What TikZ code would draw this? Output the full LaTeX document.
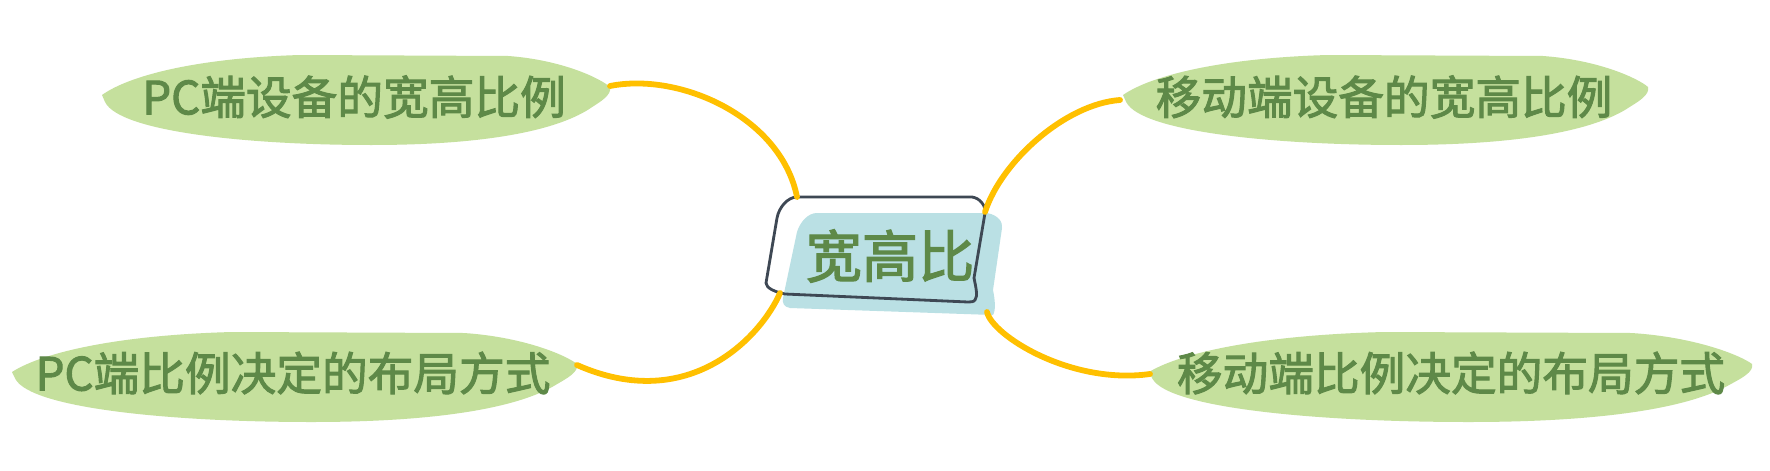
\documentclass[tikz,border=0pt]{standalone}
\usepackage{fontspec}
\newfontfamily\cjk{Noto Sans CJK SC}[FakeBold=2.2]
\definecolor{leafgreen}{RGB}{197,224,157}
\definecolor{textgreen}{RGB}{94,137,72}
\definecolor{branchyellow}{RGB}{255,192,0}
\definecolor{framegray}{RGB}{62,72,84}
\definecolor{mainblue}{RGB}{186,224,228}

\begin{document}
\begin{tikzpicture}[x=0.02cm,y=-0.02cm,
	leaf/.style={fill=leafgreen},
	leaftext/.style={text=textgreen,font=\cjk\fontsize{26}{30}\selectfont,inner sep=0pt},
	branch/.style={draw=branchyellow,line width=3.3pt,line cap=round}]
			\fill[white] (0,0) rectangle (1770,470);
			\useasboundingbox (0,0) rectangle (1770,470);
			
			% leaves
			\foreach \lx/\ty/\w in {102/55/508, 12/332/565, 1123/55/525, 1149/332/603}
				\fill[leaf,shift={(\lx,\ty)},xscale=\w] (0,40) .. controls (0.055,20) and (0.19,3) .. (0.39,0) -- (0.80,1)
					.. controls (0.905,5) and (0.98,23) .. (1,32) .. controls (1.004,40) and (0.98,47) .. (0.965,52)
					.. controls (0.9,75) and (0.76,90) .. (0.53,90) .. controls (0.29,90) and (0.035,77) .. (0.006,47) -- cycle;
			
			% centre
			\fill[mainblue] (817,213) -- (987,213) .. controls (998,215) and (1003,222) .. (1002,228) -- (993,290)
				.. controls (995,300) and (996,310) .. (993,315) -- (790,308) .. controls (784,307) and (782,303) .. (783,298)
				-- (797,232) .. controls (800,222) and (808,213) .. (817,213) -- cycle;
			\draw[framegray,line width=1.6pt] (797,197) -- (972,197) .. controls (980,198) and (986,206) .. (985,213) -- (974,278)
				.. controls (976,288) and (978,296) .. (975,300) .. controls (974,302) and (970,302) .. (968,302) -- (785,294)
				.. controls (775,292) and (766,288) .. (766,283) -- (777,218) .. controls (779,207) and (788,197) .. (797,197) -- cycle;
			\node[leaftext,font=\cjk\fontsize{32}{36}\selectfont] (main) at (890,256) {宽高比};
			\coordinate (main-nw) at (797,197); \coordinate (main-ne) at (985,212);
			\coordinate (main-sw) at (780,293); \coordinate (main-se) at (987,312);
			
			\node[leaftext] (pcdev) at (354,97) {PC端设备的宽高比例};
			\node[leaftext] (pclay) at (293,373) {PC端比例决定的布局方式};
			\node[leaftext] (mobdev) at (1384,97) {移动端设备的宽高比例};
			\node[leaftext] (moblay) at (1451,373) {移动端比例决定的布局方式};
			\coordinate (pcdev-tip) at (610,86); \coordinate (pclay-tip) at (577,365);
			\coordinate (mobdev-tip) at (1120,100); \coordinate (moblay-tip) at (1150,374);
			
			% branches
			\draw[branch] (main-nw) .. controls +(-16,-80) and +(70,-14) .. (pcdev-tip);
			\draw[branch] (main-ne) .. controls +(16,-50) and +(-55,4) .. (mobdev-tip);
			\draw[branch] (main-sw) .. controls +(-18,42) and +(113,50) .. (pclay-tip);
			\draw[branch] (main-se) .. controls +(5,23) and +(-80,11) .. (moblay-tip);
\end{tikzpicture}
\end{document}
